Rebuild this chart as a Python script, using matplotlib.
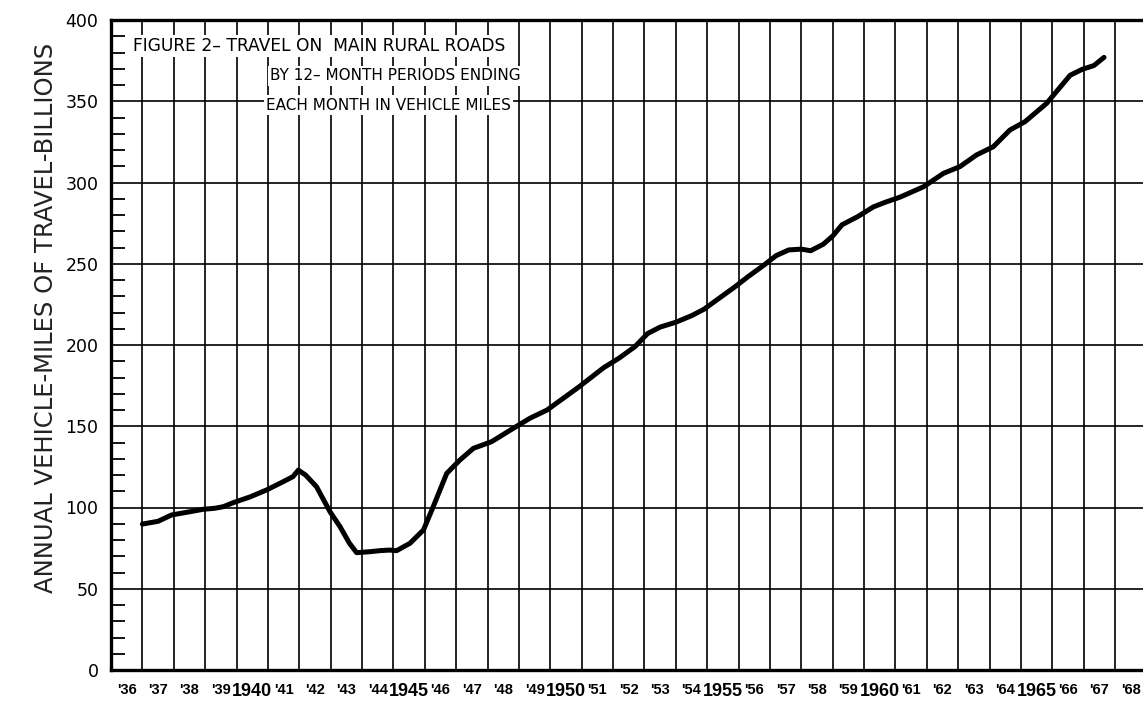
import matplotlib.pyplot as plt
from matplotlib.ticker import MultipleLocator

# --- data (year, billions of vehicle-miles) ---
years = [1937.0, 1937.5, 1937.93, 1938.4, 1938.94, 1939.3, 1939.58, 1939.9,
         1940.43, 1940.96, 1941.49, 1941.8, 1941.97, 1942.2, 1942.55, 1942.98,
         1943.3, 1943.6, 1943.83, 1944.25, 1944.6, 1944.89, 1945.1, 1945.53,
         1945.96, 1946.27, 1946.7, 1947.12, 1947.55, 1948.13, 1948.82, 1949.35,
         1949.9, 1950.4, 1950.9, 1951.3, 1951.7, 1952.2, 1952.7, 1953.1,
         1953.5, 1954.0, 1954.5, 1954.9, 1955.4, 1955.9, 1956.3, 1956.8,
         1957.2, 1957.6, 1958.0, 1958.3, 1958.7, 1959.0, 1959.3, 1959.8,
         1960.3, 1960.7, 1961.15, 1961.9, 1962.53, 1963.06, 1963.59, 1964.12,
         1964.65, 1965.13, 1965.82, 1966.57, 1966.95, 1967.33, 1967.65]
miles = [89.8, 91.5, 95.4, 97.0, 98.9, 99.5, 100.5, 103.0,
         106.5, 110.8, 115.9, 119.0, 123.0, 120.0, 112.8, 97.4,
         88.2, 78.0, 72.2, 72.8, 73.5, 73.8, 73.4, 78.0,
         86.2, 100.5, 121.0, 129.2, 136.4, 140.5, 148.7, 154.9,
         160.0, 167.0, 174.0, 180.0, 186.0, 192.0, 199.0, 207.0,
         211.0, 214.0, 218.0, 222.0, 229.0, 236.0, 242.0, 249.0,
         255.0, 258.5, 259.0, 258.0, 262.0, 267.0, 274.0, 279.0,
         285.0, 288.0, 291.0, 297.4, 305.6, 309.8, 317.0, 322.0,
         332.3, 337.4, 348.7, 366.0, 369.6, 372.0, 377.0]

label_years = list(range(1936, 1969))
year_labels = [str(y) if y % 5 == 0 else "'" + str(y)[2:] for y in label_years]

title_lines = ["FIGURE 2– TRAVEL ON  MAIN RURAL ROADS",
               "BY 12– MONTH PERIODS ENDING",
               "EACH MONTH IN VEHICLE MILES"]

W, H = 1143, 703
fig = plt.figure(figsize=(W / 100, H / 100), dpi=100)
ax = fig.add_axes([111 / W, 1 - 670 / H, 1 - 111 / W, 650 / H])

ax.plot(years, miles, color='black', lw=3.6, solid_capstyle='round',
        solid_joinstyle='round', zorder=3)

ax.set_xlim(1936, 1936 + (W - 111) / 31.375)
ax.set_ylim(0, 400)

# grid: one vertical line per year, horizontal every 50
ax.set_xticks(range(1937, 1969))
ax.set_xticklabels([])
ax.tick_params(axis='x', which='major', length=0)
ax.set_xticks([y + 0.5 for y in label_years], minor=True)
ax.set_xticklabels(year_labels, minor=True)
ax.tick_params(axis='x', which='minor', length=0, pad=9)
for lab, y in zip(ax.xaxis.get_minorticklabels(), label_years):
    lab.set_family('Liberation Sans')
    lab.set_fontweight('bold')
    lab.set_fontsize(13 if y % 5 == 0 else 10.5)

ax.yaxis.set_major_locator(MultipleLocator(50))
ax.yaxis.set_minor_locator(MultipleLocator(10))
ax.tick_params(axis='y', which='major', length=0, pad=9, labelsize=12.5)
ax.tick_params(axis='y', which='minor', direction='in', length=10, width=1.3)
ax.grid(True, which='major', color='black', lw=1.2)

for side in ['left', 'bottom', 'top']:
    ax.spines[side].set_linewidth(2.4)
ax.spines['right'].set_visible(False)

fig.text(46 / W, 1 - 318 / H, "ANNUAL VEHICLE-MILES OF TRAVEL-BILLIONS",
         rotation=90, ha='center', va='center', fontsize=17.5, color='#222222')

# title block with white background behind each line
box = dict(facecolor='white', edgecolor='none', pad=1.5)
fig.text(133 / W, 1 - 46 / H, title_lines[0], ha='left', va='center', fontsize=12.3, bbox=box)
fig.text(270 / W, 1 - 76 / H, title_lines[1], ha='left', va='center', fontsize=11, bbox=box)
fig.text(266 / W, 1 - 105 / H, title_lines[2], ha='left', va='center', fontsize=11, bbox=box)

fig.savefig('out.png', dpi=100)
